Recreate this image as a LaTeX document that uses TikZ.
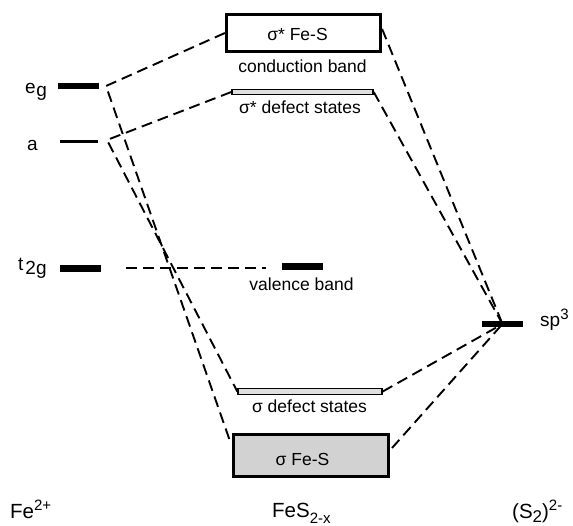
\documentclass[tikz,border=0pt]{standalone}
\usepackage{fontspec}
\setmainfont{Liberation Sans}
\begin{document}
\begin{tikzpicture}[x=1pt,y=-1pt,
  inl/.style={font=\fontsize{17.5}{20}\selectfont, inner sep=0pt, anchor=base},
  lvllbl/.style={font=\fontsize{19}{22}\selectfont, inner sep=0pt, anchor=base west},
  botlbl/.style={font=\fontsize{20.5}{24}\selectfont, inner sep=0pt, anchor=base west},
  con/.style={line width=1.9pt, dash pattern=on 11pt off 6pt},
  barlvl/.style={fill=black, inner sep=0pt, minimum width=41pt, minimum height=6.5pt},
  thinlvl/.style={fill=black, inner sep=0pt, minimum width=38pt, minimum height=3pt},
  bandbox/.style={draw, line width=3.2pt, inner sep=0pt},
  defbar/.style={draw, line width=1.4pt, fill=gray!25, inner sep=0pt}]
\useasboundingbox (0,0) rectangle (573,525);

% left levels
\node[barlvl] (eg) at (78.5,86) {};
\node[thinlvl] (a) at (79,141) {};
\node[barlvl] (t2g) at (80,268.5) {};
\coordinate (egv) at (106,86);
\coordinate (av) at (107,140);
\coordinate (t2gd) at (126,268);

% middle
\node[bandbox, minimum width=154pt, minimum height=37pt] (sbox) at (303.5,33) {};
\node[defbar, minimum width=141pt, minimum height=5pt] (sdef) at (302.5,92) {};
\node[barlvl] (val) at (302.5,266.5) {};
\coordinate (vald) at (266,268);
\node[defbar, minimum width=144pt, minimum height=6pt] (vdef) at (310,391.5) {};
\node[bandbox, fill=gray!35, minimum width=155pt, minimum height=42pt] (sfes) at (311,455.5) {};
\coordinate (sfesL) at (231,444);
\coordinate (sfesR) at (392,448);

% right
\node[barlvl] (sp3) at (502.5,324) {};

% connectors
\draw[con] (sbox.west) -- (egv) -- (sfesL);
\draw[con] (sdef.west) -- (av) -- (vdef.west);
\draw[con] (t2gd) -- (vald);
\draw[con] ([yshift=4pt]sbox.east) -- (sp3.center);
\draw[con] (sdef.east) -- (sp3.center);
\draw[con] (vdef.east) -- (sp3.center);
\draw[con] (sfesR) -- (sp3.center);

% labels
\node[lvllbl] (egl) at (25,93) {e\hspace{0.5pt}\raisebox{-3pt}{g}};
\node[lvllbl] (al) at (27,150) {a};
\node[lvllbl] (t2gl) at (18,270) {t\hspace{2pt}\raisebox{-4pt}{2g}};
\node[lvllbl] (sp3l) at (540,326) {sp\raisebox{7pt}{\fontsize{15}{17}\selectfont 3}};

\node[inl] (sboxl) at (297.5,40) {σ* Fe-S};
\node[inl] (cbl) at (302.5,72) {conduction band};
\node[inl] (sdefl) at (300,113) {σ* defect states};
\node[inl] (vall) at (301.5,290) {valence band};
\node[inl] (vdefl) at (309.5,412) {σ defect states};
\node[inl] (sfesl) at (302.5,465) {σ Fe-S};

\node[botlbl] (fel) at (10,518) {Fe\raisebox{8pt}{\fontsize{15}{17}\selectfont 2+}};
\node[botlbl] (fesl) at (272,517) {FeS\raisebox{-6pt}{\fontsize{15}{17}\selectfont 2-x}};
\node[botlbl] (s2l) at (512,518) {(S\raisebox{-4pt}{\fontsize{17}{19}\selectfont 2})\raisebox{8pt}{\fontsize{15}{17}\selectfont 2-}};
\end{tikzpicture}
\end{document}
